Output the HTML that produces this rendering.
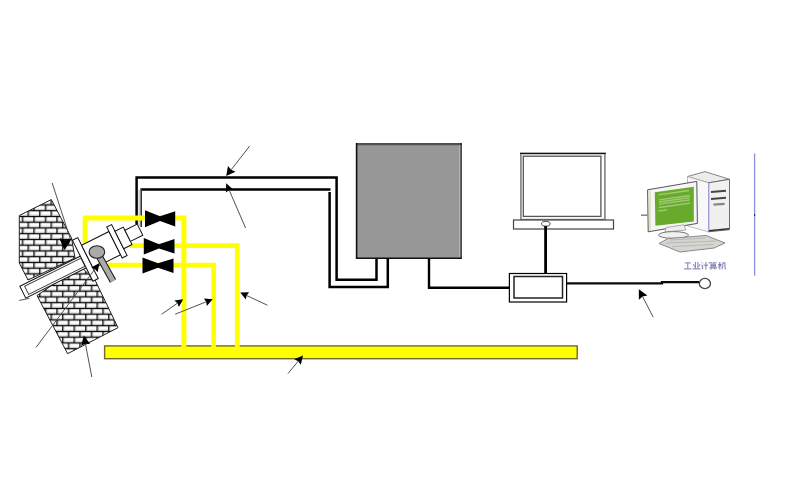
<!DOCTYPE html>
<html><head><meta charset="utf-8">
<style>
html,body{margin:0;padding:0;background:#fff;}
body{width:800px;height:500px;overflow:hidden;position:relative;font-family:"Liberation Sans",sans-serif;}
svg{position:absolute;left:0;top:0;display:block;}
</style></head><body>
<svg width="800" height="500" viewBox="0 0 800 500">
<defs>
<pattern id="brick" patternUnits="userSpaceOnUse" x="0.6" y="3.2" width="11.5" height="11.5">
  <rect width="11.5" height="11.5" fill="#fff"/>
  <rect x="0" y="4.5" width="11.5" height="1.25" fill="#c4c4c4"/>
  <rect x="0" y="10.25" width="11.5" height="1.25" fill="#c4c4c4"/>
  <rect x="5.3" y="1.2" width="1.2" height="3.5" fill="#d8d8d8"/>
  <rect x="11.1" y="6.95" width="0.4" height="3.5" fill="#d8d8d8"/>
  <rect x="0" y="6.95" width="0.8" height="3.5" fill="#d8d8d8"/>
  <rect x="0" y="0" width="11.5" height="1.15" fill="#000"/>
  <rect x="0" y="5.75" width="11.5" height="1.15" fill="#000"/>
  <rect x="4" y="0" width="1.2" height="5.75" fill="#000"/>
  <rect x="9.8" y="5.75" width="1.2" height="5.75" fill="#000"/>
</pattern>
<linearGradient id="green" x1="0" y1="0" x2="1" y2="1">
  <stop offset="0" stop-color="#5fa82a"/><stop offset="1" stop-color="#6fb52e"/>
</linearGradient>
</defs>

<!-- brick wall -->
<polygon points="51.3,199.6 19.3,215.5 19.3,263 28,280 75,258 71.5,238" fill="url(#brick)" stroke="#222" stroke-width="1"/>
<polygon points="37,295.5 67.6,353.7 118,327.7 95,280 80,266" fill="url(#brick)" stroke="#222" stroke-width="1"/>

<!-- gray box -->
<rect x="356" y="143" width="105.6" height="116" fill="#979797"/>
<line x1="356" y1="144.1" x2="461.6" y2="144.1" stroke="#505050" stroke-width="2.2"/>
<line x1="459.9" y1="145" x2="459.9" y2="257" stroke="#c8c8c8" stroke-width="1"/>
<line x1="461.1" y1="143" x2="461.1" y2="259" stroke="#111" stroke-width="1.1"/>
<line x1="356.6" y1="143" x2="356.6" y2="259" stroke="#111" stroke-width="1.6"/>
<line x1="356" y1="258.2" x2="461.6" y2="258.2" stroke="#111" stroke-width="1.5"/>

<!-- line box to router -->
<path d="M429,258.5 V287.7 H509" fill="none" stroke="#000" stroke-width="2.4"/>
<!-- router -->
<rect x="509.4" y="273.5" width="57.2" height="28.5" fill="#fff" stroke="#000" stroke-width="1.2"/>
<rect x="514" y="276.5" width="48.5" height="21.5" fill="#fff" stroke="#222" stroke-width="1.5"/>
<path d="M567,283.4 H662 V282.1 H699" fill="none" stroke="#0a0a0a" stroke-width="2.3"/>
<ellipse cx="704.9" cy="283.5" rx="5.6" ry="5.1" fill="#fff" stroke="#4a4a4a" stroke-width="1.4"/>

<!-- laptop -->
<rect x="520.9" y="153.6" width="84" height="66" fill="#fff" stroke="#808080" stroke-width="1.6"/>
<line x1="520" y1="153.4" x2="605.8" y2="153.4" stroke="#111" stroke-width="1.2"/>
<rect x="523.3" y="156.2" width="77.6" height="60.2" fill="#fff" stroke="#555" stroke-width="1.3"/>
<rect x="513.5" y="220" width="100" height="9" fill="#fff" stroke="#444" stroke-width="1.2"/>
<ellipse cx="545.8" cy="223.8" rx="4.3" ry="2.4" fill="#fff" stroke="#444" stroke-width="1"/>

<line x1="545.6" y1="226" x2="545.6" y2="273" stroke="#000" stroke-width="2.8"/>
<!-- yellow bar -->
<rect x="104.6" y="345.9" width="472.6" height="12.8" fill="#ffff00" stroke="#6e6b2a" stroke-width="1.4"/>

<!-- black double lines -->
<path d="M136.6,224.5 V177.6 H336.6 V279.8 H376.5 V258.5" fill="none" stroke="#000" stroke-width="2.5"/>
<path d="M140.8,189.4 H330.5 M329.6,192 V287 H387.8 V258.5" fill="none" stroke="#000" stroke-width="2.5"/>
<line x1="139.2" y1="190" x2="139.2" y2="226" stroke="#cfcfcf" stroke-width="1.6"/>
<path d="M141.2,188.2 V227" fill="none" stroke="#333" stroke-width="1.6"/>

<!-- yellow lines -->
<path d="M85.2,244 V218 H183.9 V350" fill="none" stroke="#ffff00" stroke-width="5"/>
<path d="M129,245.7 H237.3 V350" fill="none" stroke="#ffff00" stroke-width="4.8"/>
<path d="M108,265 H213.6 V350" fill="none" stroke="#ffff00" stroke-width="4.6"/>

<!-- pipe assembly -->
<g transform="translate(89.8,255.6) rotate(-26.565)" stroke="#111" stroke-width="1" fill="#fff">
  <rect x="-76.3" y="-3.8" width="69" height="13.2"/>
  <rect x="-72" y="-1.7" width="63" height="9" fill="none" stroke="#444"/>
  <rect x="-8.7" y="-21.5" width="6" height="45.8"/>
  <rect x="-2.7" y="-13" width="30.6" height="26"/>
  <rect x="27.9" y="-18" width="5.5" height="34.6"/>
  <rect x="33.4" y="-10.5" width="9.3" height="19.5"/>
  <rect x="42.7" y="-7" width="13.8" height="12.5"/>
</g>
<line x1="19.2" y1="300.4" x2="29.4" y2="298.4" stroke="#555" stroke-width="1"/>
<!-- rod + ball -->
<line x1="98" y1="254" x2="113" y2="281" stroke="#111" stroke-width="7"/>
<line x1="98" y1="254" x2="113" y2="281" stroke="#aaa" stroke-width="5"/>
<ellipse cx="96.9" cy="252" rx="7.8" ry="6.3" fill="#aaa" stroke="#222" stroke-width="1.1"/>
<!-- valves -->
<path d="M145,210.3 L160,216.2 L175.2,211.3 V226.4 L160,221 L145,227.2 Z" fill="#000"/>
<path d="M143.8,238 L159,244.2 L174.5,239 V253.5 L159,248.6 L143.8,254.5 Z" fill="#000"/>
<path d="M142.5,257.5 L158,263.2 L173.5,258.5 V273 L158,267.8 L142.5,273.5 Z" fill="#000"/>
<!-- computer icon -->
<g>
  <!-- tower -->
  <polygon points="687.5,176.5 705,171.6 729.5,179.3 708.5,182.8" fill="#ececec" stroke="#777" stroke-width="0.9"/>
  <polygon points="687.5,176.5 708.5,182.8 708.5,231.8 687.5,226" fill="#f8f8f8" stroke="#aaa" stroke-width="0.8"/>
  <polygon points="708.5,182.8 729.5,179.3 729.5,229.7 708.5,231.8" fill="#f0f0f0" stroke="#6a6a80" stroke-width="1"/>
  <line x1="708.8" y1="183" x2="708.8" y2="231.5" stroke="#a8a8e0" stroke-width="1.4"/>
  <line x1="711" y1="192" x2="726" y2="190.8" stroke="#444" stroke-width="2"/>
  <line x1="711" y1="199" x2="726" y2="197.8" stroke="#444" stroke-width="2"/>
  <line x1="713.4" y1="204.6" x2="724.6" y2="203.8" stroke="#888" stroke-width="2.2"/>
  <line x1="709" y1="230.8" x2="729" y2="228.8" stroke="#333" stroke-width="1.4"/>
  <!-- monitor -->
  <polygon points="647.6,189.8 696.8,181.4 697.4,223.4 648.2,231.8" fill="#f6f6f6" stroke="#555" stroke-width="1"/>
  <line x1="650" y1="191" x2="650" y2="230.5" stroke="#d8d8a0" stroke-width="1.2"/>
  <polygon points="654.8,192.2 693.8,186.8 693.8,221.6 655.4,225.8" fill="#68ab2c"/>
  <g stroke="#c0dca0" stroke-width="1.3" opacity="0.65">
    <line x1="658.5" y1="194.8" x2="689" y2="190.5"/>
    <line x1="659" y1="199.8" x2="690" y2="195.5"/>
    <line x1="659" y1="202" x2="690" y2="197.7"/>
    <line x1="659" y1="204.2" x2="690" y2="199.9"/>
    <line x1="659" y1="207.5" x2="690" y2="203.2"/>
    <line x1="658.5" y1="211" x2="667" y2="209.8"/>
  </g>
  <line x1="641" y1="215.2" x2="647.6" y2="215.2" stroke="#888" stroke-width="1.6"/>
  <!-- stand -->
  <polygon points="666,227.5 684,224.8 686,230 665,232" fill="#eee" stroke="#999" stroke-width="0.8"/>
  <ellipse cx="673.5" cy="235" rx="15" ry="3.4" fill="#f0f0f0" stroke="#777" stroke-width="1"/>
  <!-- keyboard -->
  <polygon points="659,243.5 668,238.5 706,235.5 725,243 714,248 680,252" fill="#d4d6d0" stroke="#8a8a8a" stroke-width="1"/>
  <g stroke="#aaa" stroke-width="0.8" opacity="0.8">
    <line x1="666" y1="243" x2="716" y2="241"/>
    <line x1="672" y1="246.5" x2="714" y2="244.5"/>
    <line x1="670" y1="240" x2="706" y2="238"/>
  </g>
</g>
<g stroke="#7c7cae" stroke-width="1" fill="none" stroke-linecap="butt">
  <path d="M684.8,262.9 H690.8 M687.8,262.9 V268.7 M684,268.9 H691.6"/>
  <path d="M695.4,262 V268.6 M697.9,262 V268.6 M693.4,264.2 L694.6,266.8 M700,264.2 L698.8,266.8 M692.6,268.9 H700.6"/>
  <path d="M701.6,262.4 L702.6,263.4 M701.4,265.2 H702.4 V268.8 L703.4,267.8 M703.6,265.2 H708.2 M705.9,262 V269.6"/>
  <path d="M710,262 L709.2,263.6 M710,262.8 H712.4 M714.2,262 L713.4,263.6 M714.2,262.8 H716.6 M711,264.2 H715.4 V267 H711 Z M711,265.6 H715.4 M709.2,267.9 H717 M711.8,267.9 L710.6,269.6 M714.8,267.9 V269.6"/>
  <path d="M718,264.4 H721.6 M719.8,262 V269.6 M719.8,264.8 L718.2,267.6 M719.9,264.8 L721.4,266.8 M722.8,262.8 H725 V268.6 L726.2,269 M722.8,262.8 V266.6 L721.9,269.2"/>
</g>
<line x1="755.6" y1="153.5" x2="755.6" y2="275.7" stroke="#f0f0b0" stroke-width="1"/>
<line x1="754.5" y1="153.5" x2="754.5" y2="275.7" stroke="#8c8ce0" stroke-width="1.1"/>
<rect x="754" y="214" width="1.2" height="2" fill="#333"/>

<g><line x1="249.7" y1="146.0" x2="231.1" y2="169.8" stroke="#484848" stroke-width="0.95"/><polygon points="226.2,176.0 228.0,166.0 231.1,169.8 235.5,171.8" fill="#000"/><line x1="245.6" y1="228.0" x2="229.2" y2="190.1" stroke="#484848" stroke-width="0.95"/><polygon points="226.2,183.2 233.2,189.4 229.2,190.1 225.9,192.6" fill="#000"/><line x1="36.0" y1="347.4" x2="95.0" y2="269.0" stroke="#484848" stroke-width="0.95"/><polygon points="99.5,263.0 97.6,272.2 95.0,269.0 91.2,267.4" fill="#000"/><line x1="91.8" y1="377.0" x2="85.4" y2="343.7" stroke="#484848" stroke-width="0.95"/><polygon points="83.8,335.5 90.0,344.0 85.4,343.7 81.2,345.7" fill="#000"/><line x1="161.7" y1="314.2" x2="177.4" y2="303.2" stroke="#484848" stroke-width="0.95"/><polygon points="183.2,299.2 178.9,307.1 177.4,303.2 174.4,300.5" fill="#000"/><line x1="175.2" y1="314.2" x2="206.2" y2="301.8" stroke="#484848" stroke-width="0.95"/><polygon points="212.7,299.2 206.8,305.9 206.2,301.8 203.8,298.5" fill="#000"/><line x1="267.4" y1="305.2" x2="246.6" y2="295.5" stroke="#484848" stroke-width="0.95"/><polygon points="240.2,292.5 249.1,292.3 246.6,295.5 245.8,299.5" fill="#000"/><line x1="288.0" y1="373.5" x2="298.2" y2="361.2" stroke="#484848" stroke-width="0.95"/><polygon points="303.0,355.5 300.8,364.8 298.2,361.2 294.3,359.3" fill="#000"/><line x1="653.2" y1="317.2" x2="642.6" y2="296.6" stroke="#484848" stroke-width="0.95"/><polygon points="638.8,289.2 647.4,295.5 642.6,296.6 638.9,299.8" fill="#000"/><line x1="52.2" y1="183" x2="70.5" y2="239.5" stroke="#484848" stroke-width="0.95"/><polygon points="60,238.8 65.5,240.5 70.8,239.2 64.6,249.4" fill="#000" stroke="#000" stroke-width="1" stroke-linejoin="round"/></g>
</svg>

</body></html>
